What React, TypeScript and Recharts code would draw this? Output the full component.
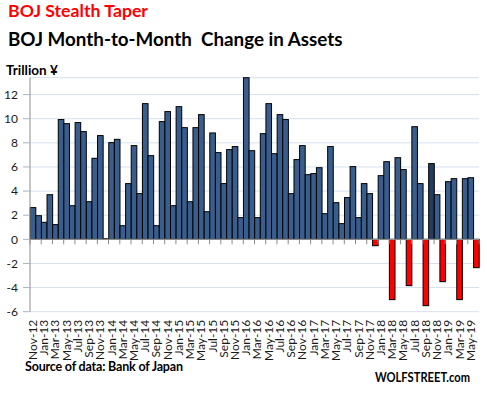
import { BarChart, Bar, XAxis, YAxis, CartesianGrid, Cell, ReferenceLine } from 'recharts'

const MONTHS = [
  'Nov-12', 'Dec-12',
  'Jan-13', 'Feb-13', 'Mar-13', 'Apr-13', 'May-13', 'Jun-13', 'Jul-13', 'Aug-13', 'Sep-13', 'Oct-13', 'Nov-13', 'Dec-13',
  'Jan-14', 'Feb-14', 'Mar-14', 'Apr-14', 'May-14', 'Jun-14', 'Jul-14', 'Aug-14', 'Sep-14', 'Oct-14', 'Nov-14', 'Dec-14',
  'Jan-15', 'Feb-15', 'Mar-15', 'Apr-15', 'May-15', 'Jun-15', 'Jul-15', 'Aug-15', 'Sep-15', 'Oct-15', 'Nov-15', 'Dec-15',
  'Jan-16', 'Feb-16', 'Mar-16', 'Apr-16', 'May-16', 'Jun-16', 'Jul-16', 'Aug-16', 'Sep-16', 'Oct-16', 'Nov-16', 'Dec-16',
  'Jan-17', 'Feb-17', 'Mar-17', 'Apr-17', 'May-17', 'Jun-17', 'Jul-17', 'Aug-17', 'Sep-17', 'Oct-17', 'Nov-17', 'Dec-17',
  'Jan-18', 'Feb-18', 'Mar-18', 'Apr-18', 'May-18', 'Jun-18', 'Jul-18', 'Aug-18', 'Sep-18', 'Oct-18', 'Nov-18', 'Dec-18',
  'Jan-19', 'Feb-19', 'Mar-19', 'Apr-19', 'May-19', 'Jun-19',
]

// trillion yen
const CHANGE = [
  2.63, 1.96,
  1.41, 3.7, 1.22, 9.93, 9.59, 2.79, 9.68, 8.93, 3.12, 6.72, 8.6, 0.05,
  8.02, 8.29, 1.13, 4.62, 7.77, 3.79, 11.25, 6.94, 1.13, 9.76, 10.59, 2.79,
  11.0, 9.26, 3.12, 9.26, 10.34, 2.29, 8.82, 7.19, 4.62, 7.44, 7.69, 1.8,
  13.4, 7.35, 1.8, 8.76, 11.25, 7.1, 10.34, 9.93, 3.79, 6.61, 7.77, 5.36,
  5.45, 5.94, 2.13, 7.69, 3.04, 1.3, 3.46, 6.03, 1.8, 4.62, 3.79, -0.53,
  5.28, 6.44, -5.0, 6.77, 5.78, -3.84, 9.34, 4.62, -5.5, 6.28, 3.7, -3.51,
  4.78, 5.03, -5.0, 5.03, 5.11, -2.35,
]

const Y_TICKS = [-6, -4, -2, 0, 2, 4, 6, 8, 10, 12]
const HIGHLIGHT_MONTH = 'Oct-18'

const data = MONTHS.map((month, i) => ({ month, change: CHANGE[i] }))

const FONT = 'Lato, "Open Sans", sans-serif'
const WIDTH = 487
const HEIGHT = 396
const MARGIN = { top: 77.7, right: 8, bottom: 0, left: 0 }
const Y_AXIS_WIDTH = 30
// bars touch each other in the original; recharts rounds the width down, so widen them back to the full band
const BAND = (WIDTH - MARGIN.right - Y_AXIS_WIDTH) / MONTHS.length

function TouchingBar(props: any) {
  const { x, y, width, height, fill } = props
  if (height == null || width == null) return null
  const cx = x + width / 2
  const top = Math.min(y, y + height)
  const h = Math.abs(height)
  return <rect x={cx - BAND / 2} y={top} width={BAND} height={h} fill={fill} stroke="#000" strokeWidth={1} />
}

function MonthTick({ x, y, payload }: any) {
  return (
    <text
      x={x}
      y={y}
      transform={`rotate(-90, ${x}, ${y})`}
      textAnchor="end"
      dy="0.35em"
      fontSize={12}
      fontFamily={FONT}
      fill="#1a1a1a"
    >
      {payload.value}
    </text>
  )
}

// the category axis sits at zero in the original, with tick marks between every other month
function ZeroAxis(props: any) {
  const { x1, x2, y1 } = props
  const step = (x2 - x1) / MONTHS.length
  const ticks = []
  for (let k = 0; k <= MONTHS.length; k += 2) {
    const tx = x1 + k * step
    ticks.push(<line key={k} x1={tx} x2={tx} y1={y1} y2={y1 + 5} stroke="#8c8c8c" strokeWidth={1} />)
  }
  return (
    <g>
      <line x1={x1} x2={x2} y1={y1} y2={y1} stroke="#8c8c8c" strokeWidth={1.2} />
      {ticks}
    </g>
  )
}

export default function App() {
  return (
    <div style={{ position: 'absolute', left: 0, top: 0, width: WIDTH, height: HEIGHT, background: '#fff' }}>
      <BarChart
        width={WIDTH}
        height={HEIGHT}
        data={data}
        margin={MARGIN}
        barCategoryGap={0}
        barGap={0}
      >
        <CartesianGrid vertical={false} stroke="#d6e1ee" />
        <XAxis
          dataKey="month"
          interval={1}
          height={84.3}
          axisLine={false}
          tickLine={false}
          tick={<MonthTick />}
        />
        <YAxis
          width={Y_AXIS_WIDTH}
          domain={[-6, 13.4]}
          ticks={Y_TICKS}
          interval={0}
          axisLine={{ stroke: '#8c8c8c' }}
          tickLine={{ stroke: '#a9b3c1' }}
          tickSize={7}
          tickMargin={5}
          tick={{ fontSize: 12, fontFamily: FONT, fill: '#1a1a1a' }}
        />
        <Bar dataKey="change" shape={<TouchingBar />} isAnimationActive={false}>
          {data.map((d) => (
            <Cell
              key={d.month}
              fill={d.change < 0 ? '#ff0000' : d.month === HIGHLIGHT_MONTH ? '#233d5e' : '#395e8d'}
            />
          ))}
        </Bar>
        <ReferenceLine y={0} shape={<ZeroAxis />} />
      </BarChart>
      <svg
        width={WIDTH}
        height={HEIGHT}
        style={{ position: 'absolute', left: 0, top: 0, pointerEvents: 'none' }}
        fontFamily={FONT}
        fontWeight="bold"
      >
        <text x={8} y={17} fontSize={17.7} fill="#ff0000">BOJ Stealth Taper</text>
        <text x={8} y={45.5} fontSize={18.8} fill="#000" xmlSpace="preserve" style={{ whiteSpace: 'pre' }}>
          {'BOJ Month-to-Month  Change in Assets'}
        </text>
        <text x={6} y={75} fontSize={13.5} fill="#000">Trillion ¥</text>
        <text x={25} y={371} fontSize={12.5} fill="#000" textLength={158} lengthAdjust="spacing">
          Source of data: Bank of Japan
        </text>
        <text x={375} y={381.5} fontSize={12.5} fill="#000" textLength={95} lengthAdjust="spacingAndGlyphs">
          WOLFSTREET.com
        </text>
      </svg>
    </div>
  )
}
